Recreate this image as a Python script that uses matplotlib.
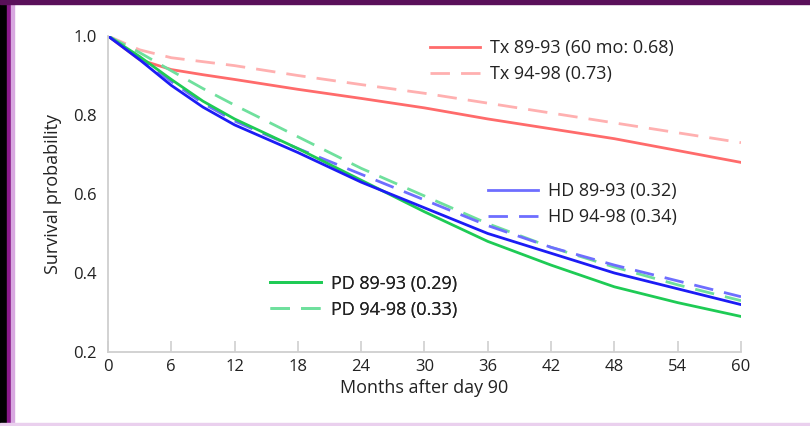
import matplotlib.pyplot as plt
from matplotlib.patches import Rectangle
from matplotlib.lines import Line2D

plt.rcParams['font.family'] = ['Open Sans', 'DejaVu Sans']

months = [0, 3, 6, 9, 12, 18, 24, 30, 36, 42, 48, 54, 60]

tx_8993 = [1.0, 0.94, 0.915, 0.902, 0.89, 0.865, 0.842, 0.818, 0.79, 0.765, 0.74, 0.71, 0.68]
tx_9498 = [1.0, 0.965, 0.945, 0.935, 0.925, 0.90, 0.877, 0.855, 0.83, 0.805, 0.78, 0.755, 0.73]
hd_8993 = [1.0, 0.94, 0.875, 0.82, 0.775, 0.705, 0.63, 0.565, 0.50, 0.45, 0.40, 0.36, 0.32]
hd_9498 = [1.0, 0.945, 0.885, 0.83, 0.785, 0.715, 0.65, 0.585, 0.52, 0.465, 0.42, 0.38, 0.34]
pd_8993 = [1.0, 0.948, 0.89, 0.835, 0.79, 0.715, 0.635, 0.555, 0.48, 0.42, 0.365, 0.325, 0.29]
pd_9498 = [1.0, 0.958, 0.912, 0.867, 0.825, 0.745, 0.665, 0.595, 0.525, 0.465, 0.415, 0.37, 0.33]

xticks = list(range(0, 61, 6))
yticks = [0.2, 0.4, 0.6, 0.8, 1.0]

fig = plt.figure(figsize=(8.1, 4.26), dpi=100)
ax = fig.add_axes([0.1333, 0.1737, 0.7815, 0.7418])

lw = 2.0
dash = (7, 4)
c_tx, c_tx2 = '#ff6b6b', '#ffb0b0'
c_hd, c_hd2 = '#1c1cf5', '#6e6eff'
c_pd, c_pd2 = '#1ecb55', '#6fe09d'

ax.plot(months, tx_9498, color=c_tx2, lw=lw, dashes=dash)
ax.plot(months, tx_8993, color=c_tx, lw=lw)
ax.plot(months, pd_9498, color=c_pd2, lw=lw, dashes=dash)
ax.plot(months, hd_9498, color=c_hd2, lw=lw, dashes=dash)
ax.plot(months, pd_8993, color=c_pd, lw=lw)
ax.plot(months, hd_8993, color=c_hd, lw=lw)

ax.set_xlim(0, 60)
ax.set_ylim(0.2, 1.0)
ax.set_xticks(xticks)
ax.set_yticks(yticks)
ax.set_yticklabels([f"{v:.1f}" for v in yticks])
for s in ['top', 'right']:
    ax.spines[s].set_visible(False)
for s in ['left', 'bottom']:
    ax.spines[s].set_color('#cfcfcf')
    ax.spines[s].set_linewidth(1.3)
ax.tick_params(axis='x', direction='in', length=8, color='#cfcfcf', width=1.2,
               labelsize=12, labelcolor='#222222', pad=5)
ax.tick_params(axis='y', length=0, labelsize=12, labelcolor='#222222', pad=8)
ax.set_xlabel("Months after day 90", fontsize=13, color='#222222', labelpad=3)
ax.set_ylabel("Survival probability", fontsize=13, color='#222222', labelpad=8)

def group_legend(handles, labels, loc):
    leg = ax.legend(handles, labels, loc='upper left', bbox_to_anchor=loc,
                    frameon=False, fontsize=13, handlelength=2.8, handletextpad=0.55,
                    labelspacing=0.45, borderaxespad=0, borderpad=0,
                    labelcolor='#222222')
    ax.add_artist(leg)

group_legend([Line2D([], [], color=c_tx, lw=lw), Line2D([], [], color=c_tx2, lw=lw, dashes=dash)],
             ["Tx 89-93 (60 mo: 0.68)", "Tx 94-98 (0.73)"], (0.508, 0.99))
group_legend([Line2D([], [], color=c_hd2, lw=lw), Line2D([], [], color=c_hd2, lw=lw, dashes=dash)],
             ["HD 89-93 (0.32)", "HD 94-98 (0.34)"], (0.6, 0.537))
group_legend([Line2D([], [], color=c_pd, lw=lw), Line2D([], [], color=c_pd2, lw=lw, dashes=dash)],
             ["PD 89-93 (0.29)", "PD 94-98 (0.33)"], (0.256, 0.245))

# frame around the picture
fig.patches.append(Rectangle((0, 0), 0.009, 1, transform=fig.transFigure, color='black'))
fig.patches.append(Rectangle((0.009, 0), 0.005, 1, transform=fig.transFigure, color='#8a1a8a'))
fig.patches.append(Rectangle((0.014, 0), 0.003, 1, transform=fig.transFigure, color='#d8a8e0'))
fig.patches.append(Rectangle((0, 0.99), 1, 0.01, transform=fig.transFigure, color='#5a105a'))
fig.patches.append(Rectangle((0, 0), 1, 0.006, transform=fig.transFigure, color='#ead0ee'))

fig.savefig("out.png", dpi=100)
